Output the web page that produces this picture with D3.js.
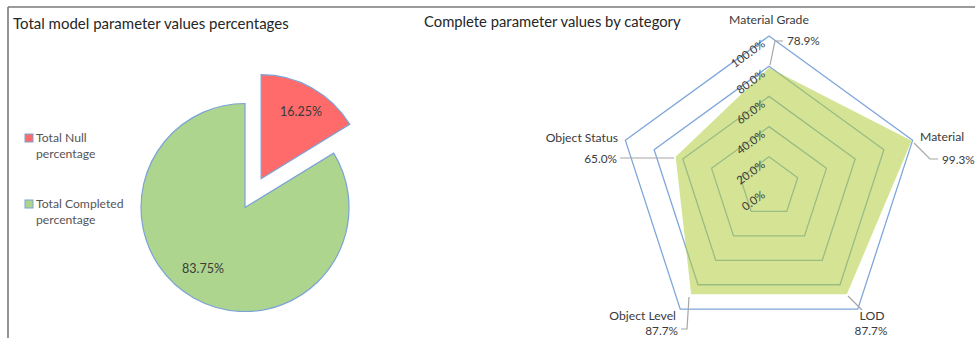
<!DOCTYPE html>
<html>
<head>
<meta charset="utf-8">
<script src="https://cdn.jsdelivr.net/npm/d3@7"></script>
<style>
  html, body { margin: 0; padding: 0; background: #fff; }
  svg { display: block; font-family: Lato, "Open Sans", sans-serif; }
</style>
</head>
<body>
<svg id="chart" width="975" height="338"></svg>
<script>
// Pie: share of null vs completed parameter values
const pieLabels = ["Total Null percentage", "Total Completed percentage"];
const pieLegendLines = [["Total Null", "percentage"], ["Total Completed", "percentage"]];
const pieValues = [16.25, 83.75];
const pieColors = ["#FF6B6B", "#AED58E"];

// Radar: complete parameter values by category (percent)
const radarCategories = ["Material Grade", "Material", "LOD", "Object Level", "Object Status"];
const radarValues = [78.9, 99.3, 87.7, 87.7, 65.0];
const radarTicks = [0, 20, 40, 60, 80, 100];

const svg = d3.select("#chart");
const textColor = "#3a3a3a";

// frame
svg.append("line").attr("x1", 8).attr("x2", 975).attr("y1", 7).attr("y2", 7)
  .attr("stroke", "#7a7a7a").attr("stroke-width", 1.6);
svg.append("line").attr("x1", 8).attr("x2", 8).attr("y1", 7).attr("y2", 338)
  .attr("stroke", "#7a7a7a").attr("stroke-width", 1.6);

// ---------- Pie ----------
svg.append("text").attr("x", 13).attr("y", 29).attr("font-size", 15)
  .attr("fill", "#262626").text("Total model parameter values percentages");

const pieCx = 245, pieCy = 207.5, pieR = 104, explode = 33;
const pie = d3.pie().sort(null).value(d => d)(pieValues);
const arc = d3.arc().innerRadius(0).outerRadius(pieR);
const pieG = svg.append("g").attr("transform", `translate(${pieCx},${pieCy})`);
pie.forEach((p, i) => {
  const mid = (p.startAngle + p.endAngle) / 2;
  const off = i === 0 ? explode : 0;
  const dx = Math.sin(mid) * off, dy = -Math.cos(mid) * off;
  const g = pieG.append("g").attr("transform", `translate(${dx},${dy})`);
  g.append("path").attr("d", arc(p)).attr("fill", pieColors[i])
    .attr("stroke", "#7BA3D6").attr("stroke-width", 1.2);
});
// data labels
const pieLabelPos = [[301, 112], [203, 269]];
pie.forEach((p, i) => {
  svg.append("text").attr("x", pieLabelPos[i][0]).attr("y", pieLabelPos[i][1] + 4)
    .attr("text-anchor", "middle").attr("font-size", 12.5).attr("fill", textColor)
    .text(pieValues[i].toFixed(2) + "%");
});
// legend
const legY = [134, 200];
pieLegendLines.forEach((lines, i) => {
  svg.append("rect").attr("x", 25).attr("y", legY[i]).attr("width", 8).attr("height", 8)
    .attr("fill", pieColors[i]).attr("stroke", "#7BA3D6").attr("stroke-width", 1);
  lines.forEach((t, j) => {
    svg.append("text").attr("x", 36).attr("y", legY[i] + 8 + j * 16)
      .attr("font-size", 12.2).attr("fill", "#555").text(t);
  });
});

// ---------- Radar ----------
svg.append("text").attr("x", 424).attr("y", 27).attr("font-size", 14.8)
  .attr("fill", "#262626").text("Complete parameter values by category");

const rcx = 769, rcy = 187, rR = 151;
const r = d3.scaleLinear().domain([0, 100]).range([0, rR]);
const ang = d3.scalePoint().domain(radarCategories).range([0, 2 * Math.PI * 4 / 5]);
const pt = (cat, v) => {
  const a = ang(cat);
  return [rcx + Math.sin(a) * r(v), rcy - Math.cos(a) * r(v)];
};

// rings
radarTicks.filter(t => t > 0).forEach(t => {
  svg.append("polygon")
    .attr("points", radarCategories.map(c => pt(c, t).join(",")).join(" "))
    .attr("fill", "none").attr("stroke", "#7EA6DA").attr("stroke-width", 1.3);
});

// data area (semi-transparent so grid shows through)
svg.append("polygon")
  .attr("points", radarCategories.map((c, i) => pt(c, radarValues[i]).join(",")).join(" "))
  .attr("fill", "rgb(176,206,60)").attr("fill-opacity", 0.55).attr("stroke", "none");

// axis tick labels along the upper-left edge
radarTicks.forEach(t => {
  const [x, y] = pt(radarCategories[0], t);
  svg.append("text")
    .attr("transform", `translate(${x - 3},${y + 9.5}) rotate(-36)`)
    .attr("text-anchor", "end").attr("font-size", 11.5).attr("fill", textColor)
    .text(t.toFixed(1) + "%");
});

// category + value labels with leader lines
const leader = "#a6a6a6";
const labelSpec = [
  { name: [769, 24, "middle"], val: [787, 45, "start"], line: [[770, 65], [775, 41], [783, 41]] },
  { name: [920, 141, "start"], val: [942, 164, "start"], line: [[914, 143], [930, 159], [938, 159]] },
  { name: [872, 320, "middle"], val: [871, 335, "middle"], line: [[848, 296], [862, 310]] },
  { name: [676, 320, "end"], val: [678, 335, "end"], line: [[689, 297], [687, 329], [681, 329]] },
  { name: [618, 142, "end"], val: [617, 163, "end"], line: [[620, 158], [674, 158]] }
];
radarCategories.forEach((c, i) => {
  const s = labelSpec[i];
  svg.append("path").attr("d", d3.line()(s.line)).attr("fill", "none")
    .attr("stroke", leader).attr("stroke-width", 1.2);
  svg.append("text").attr("x", s.name[0]).attr("y", s.name[1]).attr("text-anchor", s.name[2])
    .attr("font-size", 12.2).attr("fill", textColor).text(c);
  svg.append("text").attr("x", s.val[0]).attr("y", s.val[1]).attr("text-anchor", s.val[2])
    .attr("font-size", 11.8).attr("fill", textColor).text(radarValues[i].toFixed(1) + "%");
});
</script>
</body>
</html>
